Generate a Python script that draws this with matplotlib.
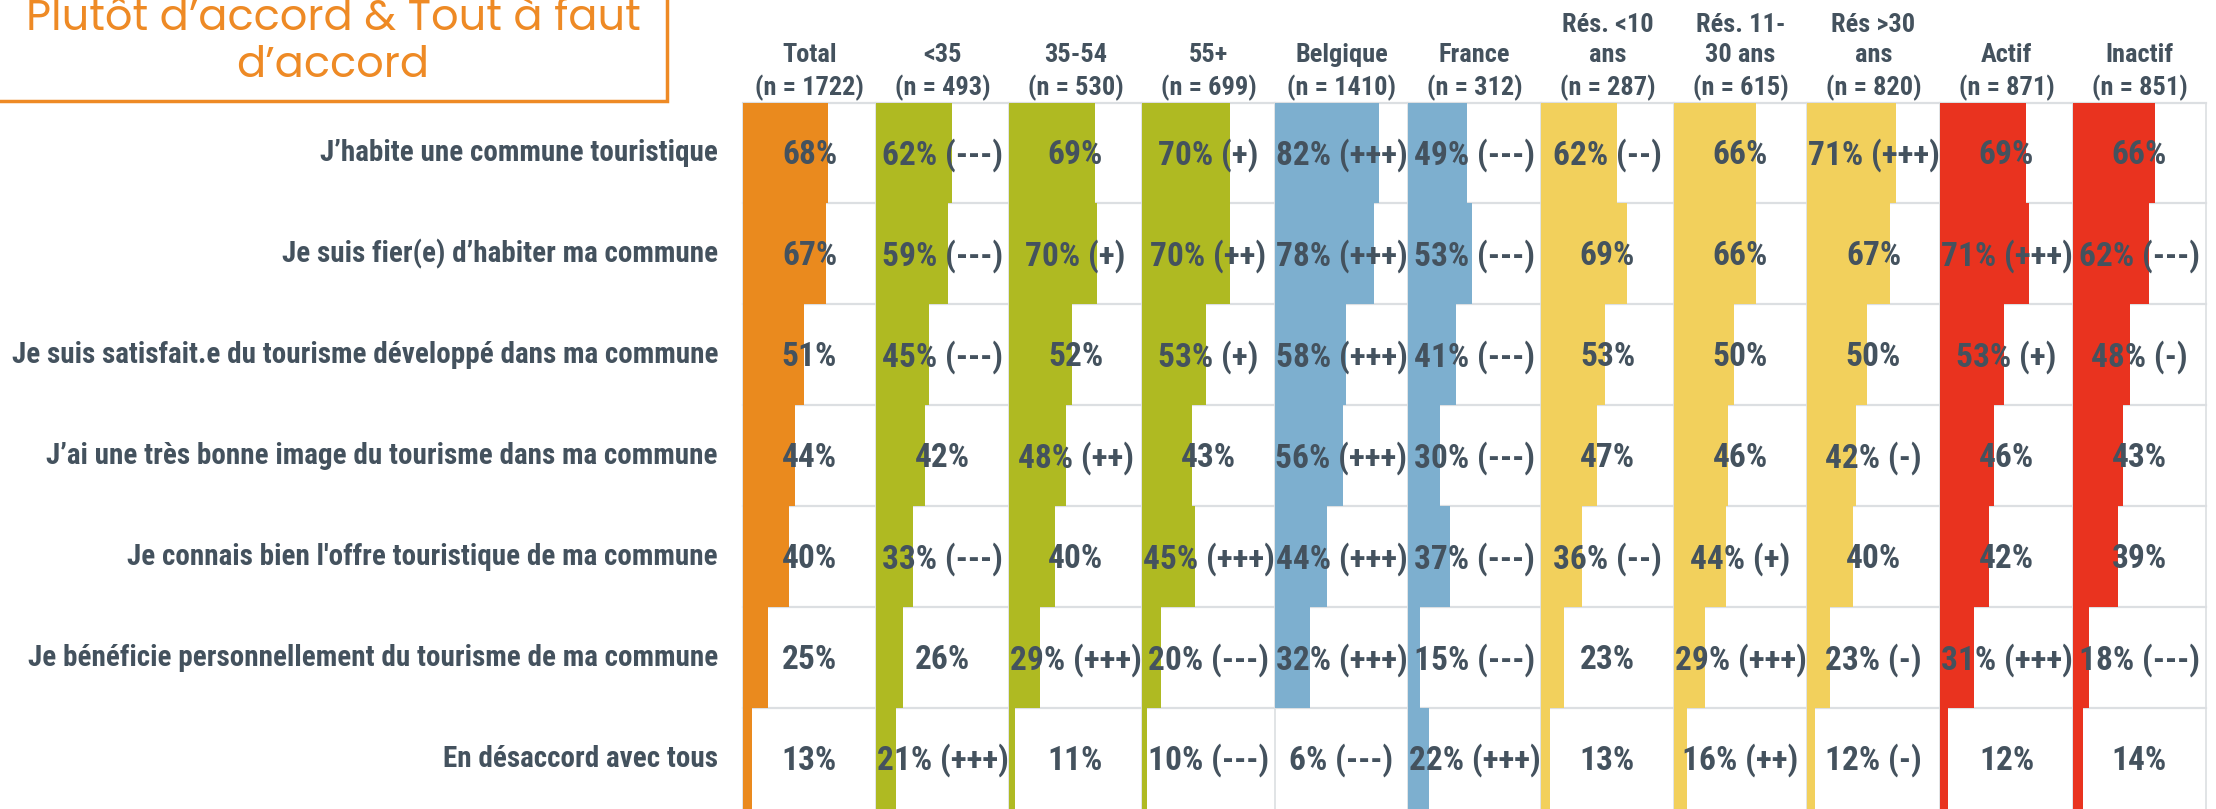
import matplotlib
matplotlib.use("Agg")
import matplotlib.pyplot as plt
import matplotlib.font_manager as fm
from matplotlib.patches import Rectangle
from matplotlib.transforms import blended_transform_factory

# ---------------- data ----------------
row_labels = [
    "J’habite une commune touristique",
    "Je suis fier(e) d’habiter ma commune",
    "Je suis satisfait.e du tourisme développé dans ma commune",
    "J’ai une très bonne image du tourisme dans ma commune",
    "Je connais bien l'offre touristique de ma commune",
    "Je bénéficie personnellement du tourisme de ma commune",
    "En désaccord avec tous",
]
col_headers = [
    "Total\n(n = 1722)", "<35\n(n = 493)", "35-54\n(n = 530)", "55+\n(n = 699)",
    "Belgique\n(n = 1410)", "France\n(n = 312)", "Rés. <10\nans\n(n = 287)",
    "Rés. 11-\n30 ans\n(n = 615)", "Rés >30\nans\n(n = 820)",
    "Actif\n(n = 871)", "Inactif\n(n = 851)",
]
total    = [68, 67, 51, 44, 40, 25, 13]
age_lt35 = [62, 59, 45, 42, 33, 26, 21]
age_3554 = [69, 70, 52, 48, 40, 29, 11]
age_55p  = [70, 70, 53, 43, 45, 20, 10]
belgique = [82, 78, 58, 56, 44, 32, 6]
france   = [49, 53, 41, 30, 37, 15, 22]
res_lt10 = [62, 69, 53, 47, 36, 23, 13]
res_1130 = [66, 66, 50, 46, 44, 29, 16]
res_gt30 = [71, 67, 50, 42, 40, 23, 12]
actif    = [69, 71, 53, 46, 42, 31, 12]
inactif  = [66, 62, 48, 43, 39, 18, 14]

sig_total    = ["", "", "", "", "", "", ""]
sig_lt35     = ["---", "---", "---", "", "---", "", "+++"]
sig_3554     = ["", "+", "", "++", "", "+++", ""]
sig_55p      = ["+", "++", "+", "", "+++", "---", "---"]
sig_belgique = ["+++", "+++", "+++", "+++", "+++", "+++", "---"]
sig_france   = ["---", "---", "---", "---", "---", "---", "+++"]
sig_res_lt10 = ["--", "", "", "", "--", "", ""]
sig_res_1130 = ["", "", "", "", "+", "+++", "++"]
sig_res_gt30 = ["+++", "", "", "-", "", "-", "-"]
sig_actif    = ["", "+++", "+", "", "", "+++", ""]
sig_inactif  = ["", "---", "-", "", "", "---", ""]

series = [total, age_lt35, age_3554, age_55p, belgique, france,
          res_lt10, res_1130, res_gt30, actif, inactif]
sigs = [sig_total, sig_lt35, sig_3554, sig_55p, sig_belgique, sig_france,
        sig_res_lt10, sig_res_1130, sig_res_gt30, sig_actif, sig_inactif]

title_text = "Plutôt d’accord & Tout à faut\nd’accord"

# ---------------- styles ----------------
ORANGE = "#EA8A1E"
GREEN = "#AFBA22"
BLUE = "#7DAFCF"
YELLOW = "#F2D05C"
RED = "#E9331F"
col_colors = [ORANGE, GREEN, GREEN, GREEN, BLUE, BLUE,
              YELLOW, YELLOW, YELLOW, RED, RED]
TXT = "#44525E"
GRID = "#DCDFE2"
TITLE_C = "#EE8A25"

avail = {f.name for f in fm.fontManager.ttflist}
def pick(cands):
    for c in cands:
        if c in avail:
            return c
    return "DejaVu Sans"

COND = pick(["Roboto Condensed", "Liberation Sans Narrow", "DejaVu Sans"])
LIGHT = pick(["Poppins", "Lato", "Open Sans", "Roboto"])

W, H, DPI = 2216, 809, 100
fig = plt.figure(figsize=(W / DPI, H / DPI), dpi=DPI)
fig.patch.set_facecolor("white")

x0 = 743.0
colw = 133.0
top_px = 102.5
ncol = len(series)
nrow = len(row_labels)
XMIN, XMAX = 6.5, 103.0

axes = []
for i, (vals, sg, c) in enumerate(zip(series, sigs, col_colors)):
    ax = fig.add_axes([(x0 + i * colw) / W, 0.0, colw / W, 1 - top_px / H])
    ax.set_xlim(XMIN, XMAX)
    ax.set_ylim(nrow - 0.5, -0.5)
    ax.axis("off")
    ys = list(range(nrow))
    ax.barh(ys, vals, height=1.0, left=0, color=c, zorder=2, linewidth=0)
    for yb in [k - 0.5 for k in range(nrow)]:
        ax.axhline(yb, color=GRID, lw=1.6, zorder=1, clip_on=False)
    ax.axvline(XMIN, color=GRID, lw=1.2, zorder=1, clip_on=False)
    if i == ncol - 1:
        ax.axvline(XMAX, color=GRID, lw=1.2, zorder=1, clip_on=False)
    xc = (XMIN + XMAX) / 2
    for y, v, s in zip(ys, vals, sg):
        lab = f"{v}%" + (f" ({s})" if s else "")
        ax.text(xc, y + 0.02, lab, ha="center", va="center", color=TXT,
                fontsize=24, fontweight="bold", family=COND,
                fontstretch="condensed", zorder=3)
    ax.text(xc, -0.515, col_headers[i], ha="center", va="bottom",
            multialignment="center", color=TXT, fontsize=19,
            fontweight="bold", family=COND, fontstretch="condensed",
            linespacing=1.35, clip_on=False)
    axes.append(ax)

# row labels
tr = blended_transform_factory(fig.transFigure, axes[0].transData)
for k, lab in enumerate(row_labels):
    fig.text(718 / W, k, lab, transform=tr, ha="right", va="center",
             color=TXT, fontsize=21, fontweight="bold", family=COND,
             fontstretch="condensed")

# title box
fig.patches.append(Rectangle((-10 / W, 1 - 101 / H), 677 / W, 0.3,
                             transform=fig.transFigure, fill=False,
                             edgecolor=TITLE_C, lw=2.5))
fig.text(333 / W, 1 - 43 / H, title_text, ha="center", va="center",
         color=TITLE_C, fontsize=31, fontweight="normal", family=LIGHT,
         linespacing=1.1)

fig.savefig("out.png", dpi=DPI, facecolor="white")
